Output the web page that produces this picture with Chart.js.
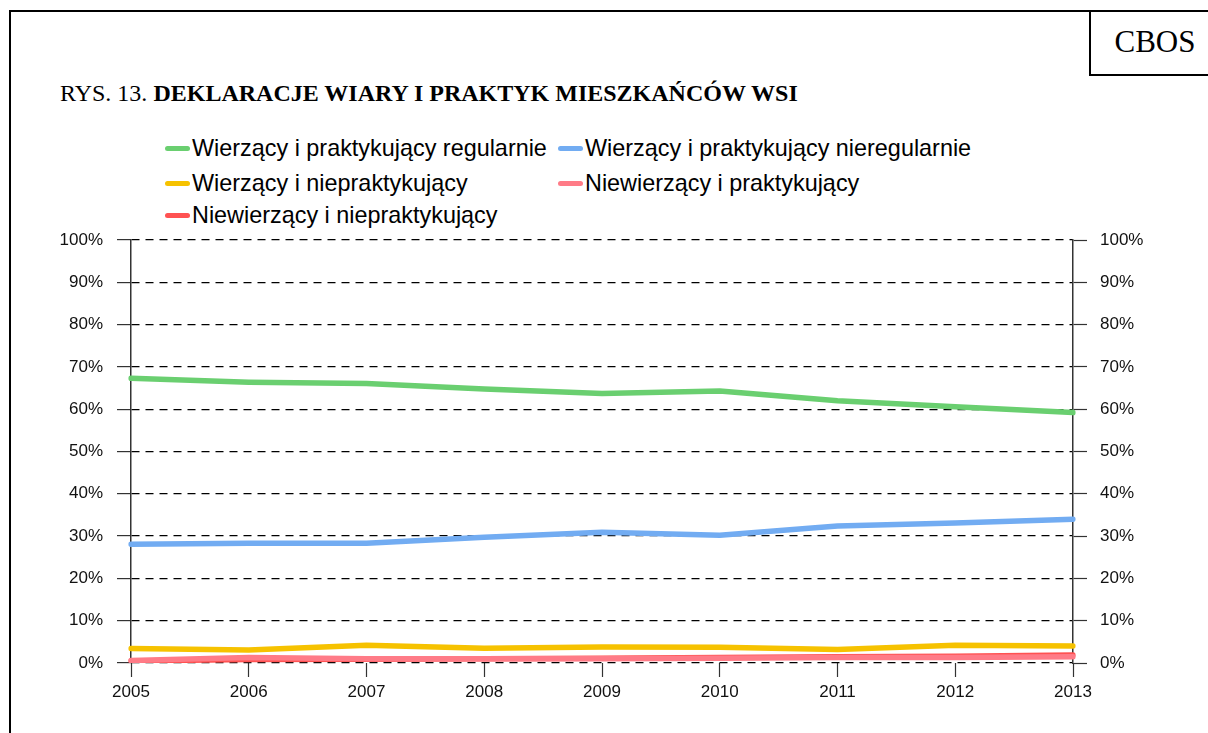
<!DOCTYPE html>
<html>
<head>
<meta charset="utf-8">
<script src="https://cdn.jsdelivr.net/npm/chart.js@4/dist/chart.umd.min.js"></script>
<style>
  html, body { margin:0; padding:0; background:#fff; overflow:hidden; }
  body { width:1208px; height:733px; position:relative; }
  #frame { position:absolute; left:9px; top:10px; width:1300px; height:800px; border:2px solid #000; box-sizing:border-box; }
  #cbos { position:absolute; left:1089px; top:10px; width:200px; height:66px; border:2px solid #000; box-sizing:border-box; }
  #cbosText { position:absolute; left:1100px; top:10px; width:110px; height:66px; line-height:64px; text-align:center; font-family:"Liberation Serif", serif; font-size:31px; color:#000; }
  #title { position:absolute; left:60px; top:80px; font-family:"Liberation Serif", serif; font-size:24px; color:#000; white-space:nowrap; }
  #title b { font-weight:bold; }
  #legend { position:absolute; left:0; top:0; }
  .li { position:absolute; height:34px; font-family:"Liberation Sans", Arial, sans-serif; font-size:23.4px; color:#000; white-space:nowrap; line-height:34px; }
  .li span.sw { position:absolute; left:0; top:15px; width:25px; height:5px; border-radius:3px; }
  .li span.tx { position:absolute; left:27px; top:0; }
  canvas#c { position:absolute; left:0; top:0; }
</style>
</head>
<body>
<div id="frame"></div>
<div id="cbos"></div>
<div id="cbosText">CBOS</div>
<div id="title">RYS. 13. <b>DEKLARACJE WIARY I PRAKTYK MIESZKAŃCÓW WSI</b></div>
<div id="legend"></div>
<canvas id="c" width="1208" height="733"></canvas>
<script>
const years = ['2005','2006','2007','2008','2009','2010','2011','2012','2013'];
const seriesNames = [
  'Wierzący i praktykujący regularnie',
  'Wierzący i praktykujący nieregularnie',
  'Wierzący i niepraktykujący',
  'Niewierzący i praktykujący',
  'Niewierzący i niepraktykujący'
];
const regularnie    = [67.3, 66.4, 66.1, 64.8, 63.7, 64.3, 62.0, 60.6, 59.2];
const nieregularnie = [28.1, 28.3, 28.3, 29.7, 30.9, 30.2, 32.4, 33.1, 34.0];
const niepraktyk    = [3.4, 3.1, 4.2, 3.5, 3.8, 3.7, 3.2, 4.2, 4.0];
const niewPraktyk   = [0.6, 1.3, 1.0, 1.0, 1.0, 1.1, 1.3, 1.3, 1.5];
const niewNiepraktyk= [0.5, 0.8, 0.9, 1.0, 1.1, 1.3, 1.5, 1.6, 1.9];
const yTicks = [0,10,20,30,40,50,60,70,80,90,100];
const colors = ['#6acf70', '#72acf2', '#f6c200', '#ff7b87', '#ff5252'];
const values = [regularnie, nieregularnie, niepraktyk, niewPraktyk, niewNiepraktyk];

// legend (HTML, 2 columns)
const legendPos = [[165,131],[558,131],[165,166],[558,166],[165,198]];
const leg = document.getElementById('legend');
seriesNames.forEach((n,i)=>{
  const d = document.createElement('div');
  d.className='li';
  d.style.left = legendPos[i][0]+'px';
  d.style.top = legendPos[i][1]+'px';
  d.innerHTML = '<span class="sw" style="background:'+colors[i]+'"></span><span class="tx"></span>';
  d.querySelector('.tx').textContent = n;
  leg.appendChild(d);
});

const font = {family:'"Liberation Sans", Arial, sans-serif', size:17};
const AREA = {left:131, right:1073, top:240, bottom:663};

new Chart(document.getElementById('c'), {
  type:'line',
  data:{
    labels: years,
    datasets: seriesNames.map((n,i)=>({
      label:n, data:values[i], borderColor:colors[i], backgroundColor:colors[i],
      borderWidth:5.5, pointRadius:0, tension:0, borderCapStyle:'round', borderJoinStyle:'round',
      fill:false, yAxisID:'y'
    }))
  },
  options:{
    responsive:false, animation:false,
    layout:{ padding:{ left:0, right:0, top:AREA.top, bottom:30 } },
    plugins:{ legend:{display:false}, title:{display:false}, tooltip:{enabled:false} },
    scales:{
      x:{
        type:'category', offset:false,
        grid:{ display:true, drawOnChartArea:false, tickLength:14, tickColor:'#333', tickWidth:1.2 },
        border:{ display:false },
        ticks:{ color:'#111', font:font, padding:5, maxRotation:0, autoSkip:false },
        afterFit:(s)=>{ s.height = 733 - AREA.bottom - 30; }
      },
      y:{
        position:'left', min:0, max:100,
        afterBuildTicks:(s)=>{ s.ticks = yTicks.map(v=>({value:v})); },
        grid:{ color:'#000', lineWidth:1.2, tickLength:14, tickColor:'#333', tickWidth:1.2 },
        border:{ display:true, color:'#333', width:1.5, dash:[8,6] },
        ticks:{ color:'#111', font:font, padding:14, callback:v=>v+'%' },
        afterFit:(s)=>{ s.width = AREA.left; }
      },
      y1:{
        position:'right', min:0, max:100,
        afterBuildTicks:(s)=>{ s.ticks = yTicks.map(v=>({value:v})); },
        grid:{ drawOnChartArea:false, tickLength:14, tickColor:'#333', tickWidth:1.2 },
        border:{ display:true, color:'#333', width:1.5 },
        ticks:{ color:'#111', font:font, padding:13, callback:v=>v+'%' },
        afterFit:(s)=>{ s.width = 1208 - AREA.right; }
      }
    }
  }
});
</script>
</body>
</html>
